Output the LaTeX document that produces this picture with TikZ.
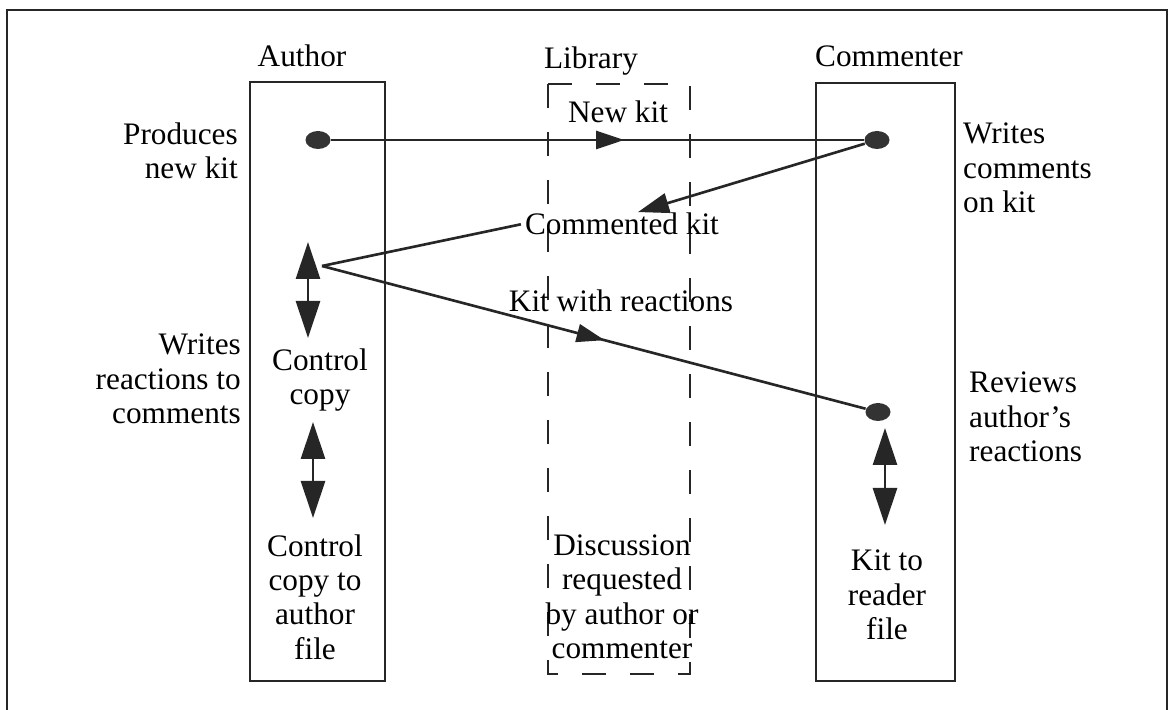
\documentclass[tikz,border=0pt]{standalone}
\usepackage{fontspec}
\setmainfont{Liberation Serif}
\usetikzlibrary{arrows.meta,shapes.geometric,decorations.markings}
\tikzset{
  frameln/.style={line width=0.65pt,black!85},
  lane/.style={draw=black!85,line width=0.6pt},
  libbox/.style={draw=black!85,line width=0.75pt,dash pattern=on 2.4mm off 2.4mm},
  lbl/.style={font=\fontsize{8.9}{9.8}\selectfont,inner sep=1pt,align=center},
  lblL/.style={lbl,align=left,anchor=west},
  lblR/.style={lbl,align=right,anchor=east},
  dotpt/.style={ellipse,fill=black!80,minimum width=2.5mm,minimum height=1.8mm,
    inner sep=0pt},
  flow/.style={line width=0.75pt,black!85},
  midarrow/.style={flow,postaction={decorate},decoration={markings,
    mark=at position #1 with {\arrow{Triangle[length=2.8mm,width=1.8mm]}}}},
  tipflow/.style={flow,-{Triangle[length=3.1mm,width=2mm]}},
  dbl/.style={flow,{Triangle[length=3.7mm,width=2.4mm]}-{Triangle[length=3.7mm,width=2.4mm]}},
}
\begin{document}
\begin{tikzpicture}[x=0.1mm,y=-0.1mm]
  \useasboundingbox (0,0) rectangle (1170,710);
  \draw[frameln] (7,710) -- (7,10) -- (1167,10) -- (1167,710);

  % swim lanes
  \draw[lane] (250,82) rectangle (385,681);
  \draw[lane] (816,83) rectangle (955,681);
  \draw[libbox] (548,84) rectangle (690,674);
  \node[lbl,anchor=base] (author) at (302,67) {Author};
  \node[lbl,anchor=base] (library) at (591,69) {Library};
  \node[lbl,anchor=base] (commenter) at (889,67) {Commenter};

  % side texts
  \node[lblR] (produces) at (242,151) {Produces\\new kit};
  \node[lblL] (writescm) at (959,168) {Writes\\comments\\on kit};
  \node[lblR] (writesre) at (245,379) {Writes\\reactions to\\comments};
  \node[lblL] (reviews) at (965,417) {Reviews\\author's\\reactions};

  % texts inside the lanes
  \node[lbl] (cc) at (320,380) {Control\\copy};
  \node[lbl] (ccf) at (315,597) {Control\\copy to\\author\\file};
  \node[lbl] (krf) at (887,595) {Kit to\\reader\\file};
  \node[lbl] (disc) at (622,597) {Discussion\\requested\\by author or\\commenter};
  \node[lbl,anchor=base] (newkit) at (618,123) {New kit};
  \node[lbl,anchor=base] (ck) at (622,235) {Commented kit};
  \node[lbl,anchor=base] (kwr) at (621,312) {Kit with reactions};

  % events
  \node[dotpt] (d1) at (318,140) {};
  \node[dotpt] (d2) at (877,140) {};
  \node[dotpt] (d3) at (878,412) {};
  \coordinate (meet) at (322,266);
  \coordinate (a1) at (308,242);
  \coordinate (a2) at (308,338);
  \coordinate (b1) at (313,422);
  \coordinate (b2) at (313,518);
  \coordinate (c1) at (885,428);
  \coordinate (c2) at (885,525);

  \draw[midarrow=0.55] (d1) -- (d2);
  \draw[tipflow] (d2) -- ([xshift=1.6mm,yshift=-0.3mm]ck.north);
  \draw[flow] (ck.west) -- (meet);
  \draw[midarrow=0.52] (meet) -- (d3);
  \draw[dbl] (a1) -- (a2);
  \draw[dbl] (b1) -- (b2);
  \draw[dbl] (c1) -- (c2);
\end{tikzpicture}
\end{document}
